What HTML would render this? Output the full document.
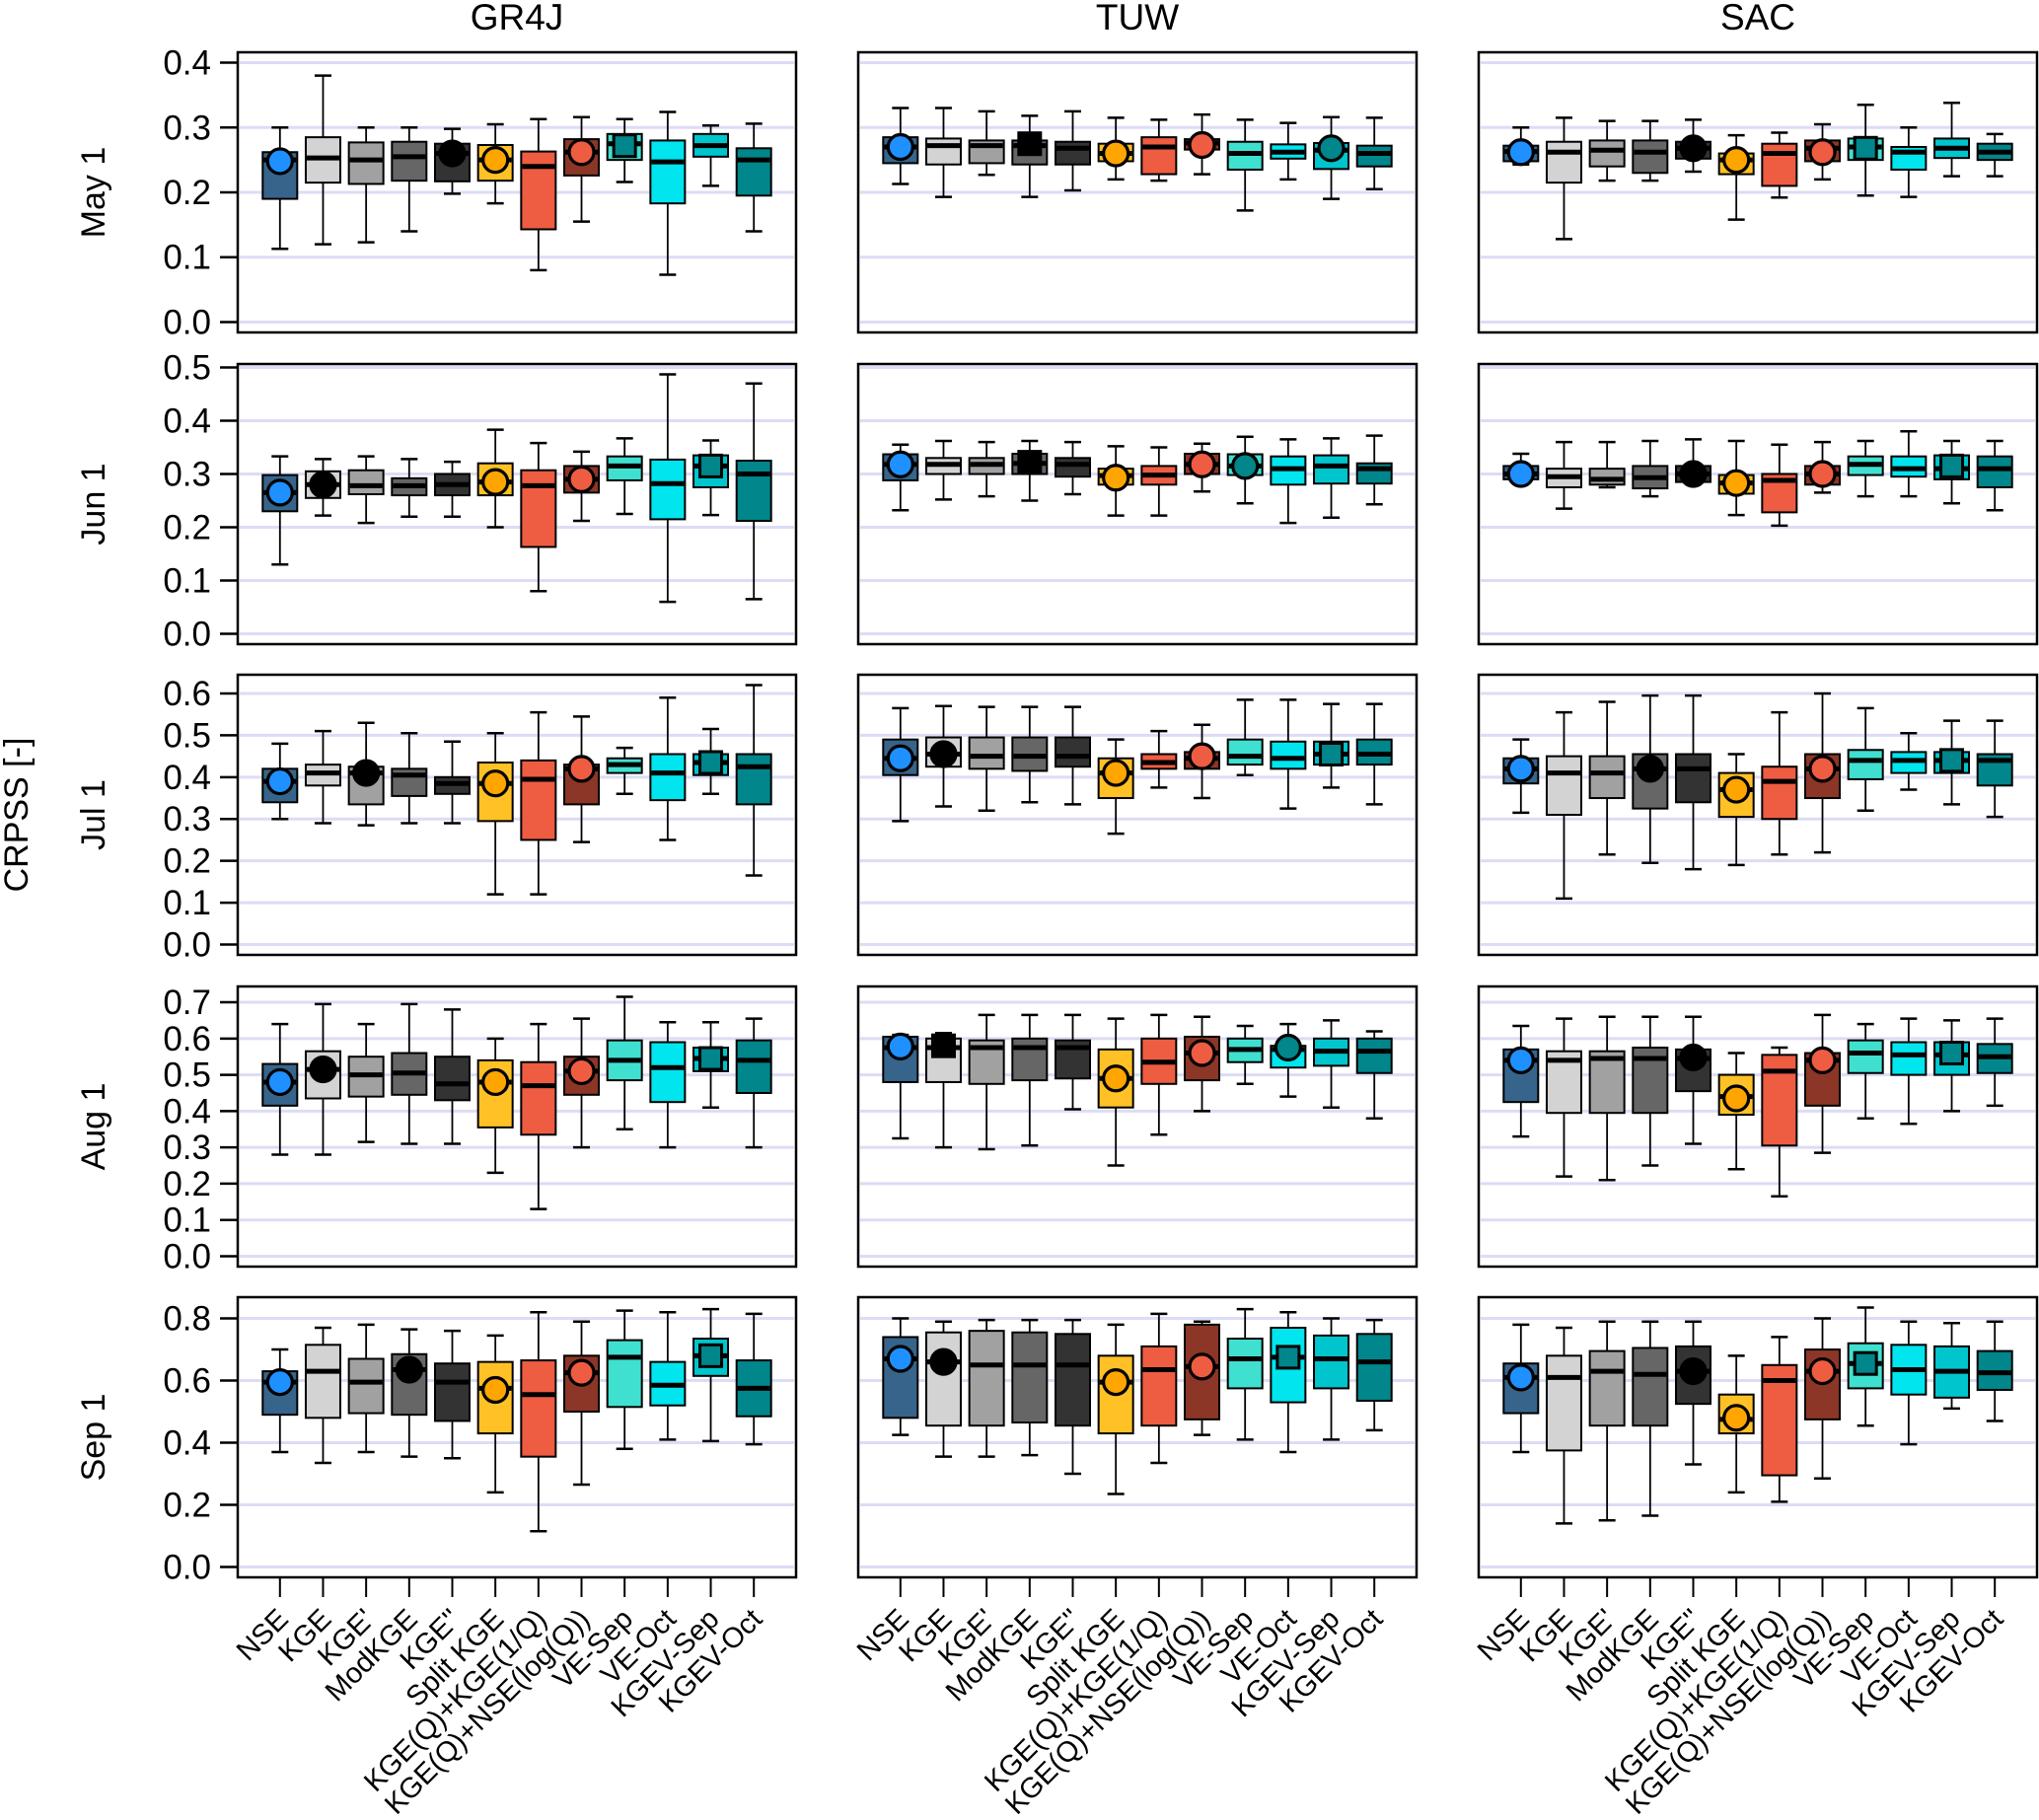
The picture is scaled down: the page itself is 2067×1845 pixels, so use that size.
<!DOCTYPE html>
<html><head><meta charset="utf-8"><title>CRPSS boxplots</title>
<style>html,body{margin:0;padding:0;background:#fff}svg{display:block}text{font-family:"Liberation Sans",Arial,sans-serif;fill:#000}</style>
</head><body>
<svg id="chart" xmlns="http://www.w3.org/2000/svg" width="2067" height="1845" viewBox="0 0 2067 1845"></svg>
<script>
const categories = ["NSE","KGE","KGE'","ModKGE","KGE''","Split KGE","KGE(Q)+KGE(1/Q)","KGE(Q)+NSE(log(Q))","VE-Sep","VE-Oct","KGEV-Sep","KGEV-Oct"];
const models = ["GR4J","TUW","SAC"];
const dates = ["May 1","Jun 1","Jul 1","Aug 1","Sep 1"];
const tickLabels = [["0.0","0.1","0.2","0.3","0.4"],["0.0","0.1","0.2","0.3","0.4","0.5"],["0.0","0.1","0.2","0.3","0.4","0.5","0.6"],["0.0","0.1","0.2","0.3","0.4","0.5","0.6","0.7"],["0.0","0.2","0.4","0.6","0.8"]];
// [lo, q1, median, q3, hi]
const GR4J_May=[[0.113,0.19,0.25,0.262,0.30],[0.12,0.215,0.253,0.285,0.38],[0.123,0.213,0.25,0.277,0.30],[0.14,0.218,0.255,0.278,0.30],[0.198,0.217,0.26,0.275,0.298],[0.183,0.218,0.25,0.273,0.305],[0.08,0.143,0.24,0.263,0.313],[0.155,0.226,0.262,0.282,0.316],[0.216,0.25,0.275,0.29,0.313],[0.073,0.183,0.247,0.28,0.324],[0.21,0.255,0.272,0.29,0.303],[0.14,0.195,0.25,0.268,0.306]];
const TUW_May=[[0.213,0.245,0.27,0.285,0.33],[0.193,0.243,0.272,0.283,0.33],[0.227,0.245,0.272,0.28,0.325],[0.193,0.243,0.272,0.28,0.318],[0.203,0.243,0.268,0.278,0.325],[0.22,0.248,0.26,0.275,0.315],[0.218,0.228,0.27,0.285,0.312],[0.228,0.266,0.276,0.282,0.32],[0.172,0.235,0.26,0.278,0.312],[0.22,0.252,0.262,0.274,0.307],[0.19,0.236,0.265,0.276,0.316],[0.205,0.24,0.26,0.272,0.315]];
const SAC_May=[[0.243,0.248,0.263,0.272,0.30],[0.128,0.215,0.262,0.278,0.315],[0.218,0.24,0.265,0.28,0.31],[0.218,0.23,0.262,0.28,0.31],[0.232,0.252,0.268,0.278,0.312],[0.158,0.228,0.25,0.26,0.288],[0.192,0.21,0.26,0.275,0.292],[0.22,0.248,0.268,0.28,0.305],[0.195,0.25,0.27,0.283,0.335],[0.193,0.235,0.262,0.27,0.30],[0.225,0.253,0.268,0.283,0.338],[0.225,0.25,0.262,0.275,0.29]];
const GR4J_Jun=[[0.13,0.23,0.265,0.298,0.333],[0.222,0.255,0.28,0.305,0.328],[0.208,0.262,0.278,0.307,0.333],[0.22,0.26,0.278,0.292,0.328],[0.22,0.26,0.28,0.30,0.323],[0.20,0.26,0.285,0.32,0.383],[0.08,0.163,0.278,0.307,0.358],[0.212,0.265,0.29,0.315,0.342],[0.225,0.288,0.315,0.333,0.367],[0.06,0.215,0.282,0.327,0.487],[0.223,0.275,0.315,0.335,0.363],[0.065,0.212,0.30,0.325,0.47]];
const TUW_Jun=[[0.232,0.288,0.318,0.337,0.355],[0.252,0.30,0.318,0.33,0.362],[0.258,0.30,0.318,0.33,0.36],[0.25,0.30,0.32,0.338,0.362],[0.262,0.295,0.318,0.33,0.36],[0.222,0.28,0.297,0.31,0.352],[0.222,0.28,0.298,0.315,0.35],[0.267,0.30,0.318,0.338,0.357],[0.245,0.298,0.315,0.337,0.37],[0.208,0.28,0.31,0.333,0.365],[0.218,0.282,0.315,0.335,0.367],[0.243,0.282,0.31,0.32,0.372]];
const SAC_Jun=[[0.29,0.29,0.30,0.315,0.338],[0.235,0.275,0.295,0.31,0.36],[0.275,0.28,0.29,0.31,0.36],[0.258,0.273,0.293,0.315,0.362],[0.285,0.285,0.30,0.315,0.365],[0.223,0.263,0.283,0.298,0.362],[0.203,0.228,0.288,0.30,0.355],[0.265,0.28,0.30,0.315,0.36],[0.258,0.298,0.318,0.333,0.362],[0.258,0.295,0.31,0.333,0.38],[0.245,0.29,0.31,0.335,0.362],[0.232,0.275,0.31,0.333,0.362]];
const GR4J_Jul=[[0.30,0.34,0.39,0.42,0.48],[0.29,0.38,0.41,0.43,0.51],[0.285,0.335,0.41,0.425,0.53],[0.29,0.355,0.405,0.42,0.505],[0.29,0.36,0.385,0.40,0.485],[0.12,0.295,0.385,0.435,0.505],[0.12,0.25,0.395,0.44,0.555],[0.245,0.335,0.42,0.43,0.545],[0.36,0.41,0.43,0.445,0.47],[0.25,0.345,0.41,0.455,0.59],[0.36,0.405,0.435,0.455,0.515],[0.165,0.335,0.425,0.455,0.62]];
const TUW_Jul=[[0.295,0.405,0.445,0.49,0.565],[0.33,0.425,0.455,0.495,0.57],[0.32,0.42,0.45,0.495,0.568],[0.34,0.415,0.45,0.495,0.568],[0.335,0.425,0.45,0.495,0.568],[0.265,0.35,0.41,0.445,0.49],[0.375,0.42,0.435,0.455,0.51],[0.35,0.42,0.445,0.46,0.525],[0.405,0.43,0.45,0.49,0.585],[0.325,0.42,0.445,0.485,0.585],[0.375,0.43,0.455,0.485,0.575],[0.335,0.43,0.455,0.49,0.575]];
const SAC_Jul=[[0.315,0.385,0.42,0.445,0.49],[0.11,0.31,0.41,0.45,0.555],[0.215,0.35,0.41,0.45,0.58],[0.195,0.325,0.42,0.455,0.595],[0.18,0.34,0.42,0.455,0.595],[0.19,0.305,0.37,0.41,0.455],[0.215,0.30,0.39,0.425,0.555],[0.22,0.35,0.42,0.455,0.60],[0.32,0.395,0.44,0.465,0.565],[0.37,0.41,0.44,0.46,0.505],[0.335,0.41,0.44,0.46,0.535],[0.305,0.38,0.44,0.455,0.535]];
const GR4J_Aug=[[0.28,0.415,0.48,0.53,0.64],[0.28,0.435,0.515,0.565,0.695],[0.315,0.44,0.50,0.55,0.64],[0.31,0.445,0.505,0.56,0.695],[0.31,0.43,0.475,0.55,0.68],[0.23,0.355,0.48,0.54,0.60],[0.13,0.335,0.47,0.535,0.64],[0.30,0.445,0.51,0.55,0.655],[0.35,0.485,0.54,0.595,0.715],[0.30,0.425,0.52,0.59,0.645],[0.41,0.51,0.545,0.575,0.645],[0.30,0.45,0.54,0.595,0.655]];
const TUW_Aug=[[0.325,0.48,0.575,0.605,0.61],[0.30,0.48,0.575,0.60,0.615],[0.295,0.475,0.575,0.595,0.665],[0.305,0.485,0.575,0.60,0.665],[0.405,0.49,0.575,0.595,0.665],[0.25,0.41,0.49,0.57,0.655],[0.335,0.475,0.535,0.60,0.665],[0.40,0.485,0.56,0.605,0.66],[0.475,0.535,0.57,0.60,0.635],[0.44,0.52,0.57,0.58,0.64],[0.41,0.525,0.565,0.60,0.65],[0.38,0.505,0.565,0.60,0.62]];
const SAC_Aug=[[0.33,0.425,0.54,0.57,0.635],[0.22,0.395,0.54,0.565,0.655],[0.21,0.395,0.545,0.565,0.66],[0.25,0.395,0.545,0.575,0.66],[0.31,0.455,0.545,0.57,0.66],[0.24,0.39,0.44,0.50,0.56],[0.165,0.305,0.51,0.555,0.575],[0.285,0.415,0.54,0.56,0.665],[0.38,0.505,0.56,0.595,0.64],[0.365,0.50,0.555,0.59,0.655],[0.40,0.50,0.555,0.59,0.65],[0.415,0.505,0.55,0.585,0.655]];
const GR4J_Sep=[[0.37,0.49,0.595,0.63,0.70],[0.335,0.48,0.63,0.715,0.77],[0.37,0.495,0.595,0.67,0.78],[0.355,0.49,0.635,0.685,0.765],[0.35,0.47,0.595,0.655,0.76],[0.24,0.43,0.575,0.66,0.745],[0.115,0.355,0.555,0.665,0.82],[0.265,0.50,0.625,0.68,0.79],[0.38,0.515,0.675,0.73,0.825],[0.41,0.52,0.585,0.66,0.82],[0.405,0.615,0.68,0.735,0.83],[0.395,0.485,0.575,0.665,0.815]];
const TUW_Sep=[[0.425,0.48,0.67,0.74,0.80],[0.355,0.455,0.66,0.755,0.79],[0.355,0.455,0.65,0.76,0.795],[0.36,0.465,0.65,0.755,0.795],[0.30,0.455,0.65,0.75,0.795],[0.235,0.43,0.595,0.68,0.78],[0.335,0.455,0.635,0.71,0.815],[0.425,0.475,0.645,0.78,0.79],[0.41,0.575,0.67,0.735,0.83],[0.37,0.53,0.675,0.77,0.82],[0.41,0.575,0.67,0.745,0.80],[0.44,0.535,0.66,0.75,0.795]];
const SAC_Sep=[[0.37,0.495,0.61,0.655,0.78],[0.14,0.375,0.61,0.68,0.77],[0.15,0.455,0.63,0.695,0.79],[0.165,0.455,0.62,0.705,0.79],[0.33,0.525,0.63,0.71,0.79],[0.24,0.43,0.475,0.555,0.68],[0.21,0.295,0.60,0.65,0.74],[0.285,0.475,0.63,0.70,0.80],[0.455,0.575,0.655,0.72,0.835],[0.395,0.555,0.635,0.715,0.79],[0.51,0.545,0.63,0.71,0.785],[0.47,0.57,0.625,0.695,0.79]];
// markers: [category index, value, shape ('c' circle / 's' square), marker colour index]
const mk_GR4J_May=[[0,0.248,'c',0],[4,0.26,'c',1],[5,0.25,'c',2],[7,0.262,'c',3],[8,0.272,'s',4]];
const mk_TUW_May=[[0,0.27,'c',0],[3,0.275,'s',1],[5,0.26,'c',2],[7,0.273,'c',3],[10,0.268,'c',4]];
const mk_SAC_May=[[0,0.262,'c',0],[4,0.268,'c',1],[5,0.25,'c',2],[7,0.262,'c',3],[8,0.268,'s',4]];
const mk_GR4J_Jun=[[0,0.265,'c',0],[1,0.28,'c',1],[5,0.285,'c',2],[7,0.29,'c',3],[10,0.315,'s',4]];
const mk_TUW_Jun=[[0,0.318,'c',0],[3,0.322,'s',1],[5,0.293,'c',2],[7,0.318,'c',3],[8,0.315,'c',4]];
const mk_SAC_Jun=[[0,0.30,'c',0],[4,0.30,'c',1],[5,0.283,'c',2],[7,0.30,'c',3],[10,0.315,'s',4]];
const mk_GR4J_Jul=[[0,0.39,'c',0],[2,0.41,'c',1],[5,0.385,'c',2],[7,0.42,'c',3],[10,0.435,'s',4]];
const mk_TUW_Jul=[[0,0.445,'c',0],[1,0.455,'c',1],[5,0.41,'c',2],[7,0.45,'c',3],[10,0.455,'s',4]];
const mk_SAC_Jul=[[0,0.42,'c',0],[3,0.42,'c',1],[5,0.37,'c',2],[7,0.42,'c',3],[10,0.44,'s',4]];
const mk_GR4J_Aug=[[0,0.48,'c',0],[1,0.515,'c',1],[5,0.48,'c',2],[7,0.51,'c',3],[10,0.545,'s',4]];
const mk_TUW_Aug=[[0,0.578,'c',0],[1,0.58,'s',1],[5,0.49,'c',2],[7,0.56,'c',3],[9,0.575,'c',4]];
const mk_SAC_Aug=[[0,0.54,'c',0],[4,0.548,'c',1],[5,0.435,'c',2],[7,0.54,'c',3],[10,0.56,'s',4]];
const mk_GR4J_Sep=[[0,0.595,'c',0],[3,0.635,'c',1],[5,0.57,'c',2],[7,0.625,'c',3],[10,0.68,'s',4]];
const mk_TUW_Sep=[[0,0.67,'c',0],[1,0.66,'c',1],[5,0.595,'c',2],[7,0.645,'c',3],[9,0.675,'s',4]];
const mk_SAC_Sep=[[0,0.61,'c',0],[4,0.63,'c',1],[5,0.48,'c',2],[7,0.63,'c',3],[8,0.655,'s',4]];

const panelStats=[[GR4J_May,TUW_May,SAC_May],[GR4J_Jun,TUW_Jun,SAC_Jun],[GR4J_Jul,TUW_Jul,SAC_Jul],[GR4J_Aug,TUW_Aug,SAC_Aug],[GR4J_Sep,TUW_Sep,SAC_Sep]];
const panelMarkers=[[mk_GR4J_May,mk_TUW_May,mk_SAC_May],[mk_GR4J_Jun,mk_TUW_Jun,mk_SAC_Jun],[mk_GR4J_Jul,mk_TUW_Jul,mk_SAC_Jul],[mk_GR4J_Aug,mk_TUW_Aug,mk_SAC_Aug],[mk_GR4J_Sep,mk_TUW_Sep,mk_SAC_Sep]];

const boxFill=["#36648b","#d3d3d3","#a1a1a1","#666666","#333333","#ffc125","#ee5c42","#8b3626","#40e0d0","#00e5ee","#00c5cd","#00868b"];
const markFill=["#1e90ff","#000000","#ffa500","#ee5c42","#00868b"];
const colLeft=[241,870,1499], panelW=566, rowTop=[53,369,684,1000,1315], panelH=284;
const NS="http://www.w3.org/2000/svg";
const svg=document.getElementById('chart');
function mk(tag,attrs,parent){const e=document.createElementNS(NS,tag);for(const k in attrs)e.setAttribute(k,attrs[k]);(parent||svg).appendChild(e);return e;}
const unit=panelW/12.96;
function xScale(c,i){return colLeft[c]+(0.98+i)*unit;}
function yTopOf(r){let m=0.4;panelStats[r].forEach(p=>p.forEach(s=>{if(s[4]>m)m=s[4];}));return m;}
function yScale(r,v){const R=yTopOf(r);return rowTop[r]+panelH-(0.04*R+v)/(1.08*R)*panelH;}

models.forEach((m,c)=>{const t=mk('text',{x:colLeft[c]+panelW/2,y:30,'text-anchor':'middle','font-size':37});t.textContent=m;

});
const yt=mk('text',{x:0,y:0,'text-anchor':'middle','font-size':34,transform:'translate(28,826) rotate(-90)'});yt.textContent='CRPSS [-]';



for(let r=0;r<5;r++){
  const rl=mk('text',{x:0,y:0,'text-anchor':'middle','font-size':34,transform:`translate(106,${rowTop[r]+panelH/2}) rotate(-90)`});rl.textContent=dates[r];
  
  
  for(let c=0;c<3;c++){
    const g=mk('g',{});
    
    
    const L=colLeft[c];
    tickLabels[r].forEach(tl=>{const v=parseFloat(tl);const y=yScale(r,v);
      const gl=mk('line',{x1:L+2,x2:L+panelW-2,y1:y,y2:y,stroke:'#dcdcf5','stroke-width':3},g);
      
      
      if(c===0){
        const tk=mk('line',{x1:L-18,x2:L,y1:y,y2:y,stroke:'#000','stroke-width':2.5},g);
        
        
        const tt=mk('text',{x:L-27,y:y+12,'text-anchor':'end','font-size':35},g);tt.textContent=tl;
        
        
      }});
    const bw=35, cw=17;
    panelStats[r][c].forEach((s,i)=>{
      const x=xScale(c,i);const bg=mk('g',{},g);
      
      
      const yl=yScale(r,s[0]),y1=yScale(r,s[1]),ym=yScale(r,s[2]),y3=yScale(r,s[3]),yh=yScale(r,s[4]);
      mk('line',{x1:x,x2:x,y1:yh,y2:y3,stroke:'#000','stroke-width':1.8},bg);
      mk('line',{x1:x,x2:x,y1:y1,y2:yl,stroke:'#000','stroke-width':1.8},bg);
      mk('line',{x1:x-cw/2,x2:x+cw/2,y1:yh,y2:yh,stroke:'#000','stroke-width':2.5},bg);
      mk('line',{x1:x-cw/2,x2:x+cw/2,y1:yl,y2:yl,stroke:'#000','stroke-width':2.5},bg);
      mk('rect',{x:x-bw/2,y:y3,width:bw,height:Math.max(1,y1-y3),fill:boxFill[i],stroke:'#000','stroke-width':2},bg);
      mk('line',{x1:x-bw/2+1,x2:x+bw/2-1,y1:ym,y2:ym,stroke:'#000','stroke-width':5},bg);
    });
    panelMarkers[r][c].forEach(m=>{
      const x=xScale(c,m[0]),y=yScale(r,m[1]);let e;
      if(m[2]==='c') e=mk('circle',{cx:x,cy:y,r:12.5,fill:markFill[m[3]],stroke:'#000','stroke-width':3.2},g);
      else e=mk('rect',{x:x-11,y:y-11,width:22,height:22,fill:markFill[m[3]],stroke:'#000','stroke-width':3},g);
      
      
    });
    const fr=mk('rect',{x:L,y:rowTop[r],width:panelW,height:panelH,fill:'none',stroke:'#000','stroke-width':2.5},g);
    
    
    if(r===4){
      categories.forEach((cat,i)=>{const x=xScale(c,i);const yb=rowTop[r]+panelH;
        const tk=mk('line',{x1:x,x2:x,y1:yb,y2:yb+20,stroke:'#000','stroke-width':2},g);
        
        
        const t=mk('text',{x:0,y:0,'text-anchor':'end','font-size':29,transform:`translate(${x+10},${yb+44}) rotate(-45)`},g);t.textContent=cat;
        
        
      });
    }
  }
}
</script>
</body></html>
